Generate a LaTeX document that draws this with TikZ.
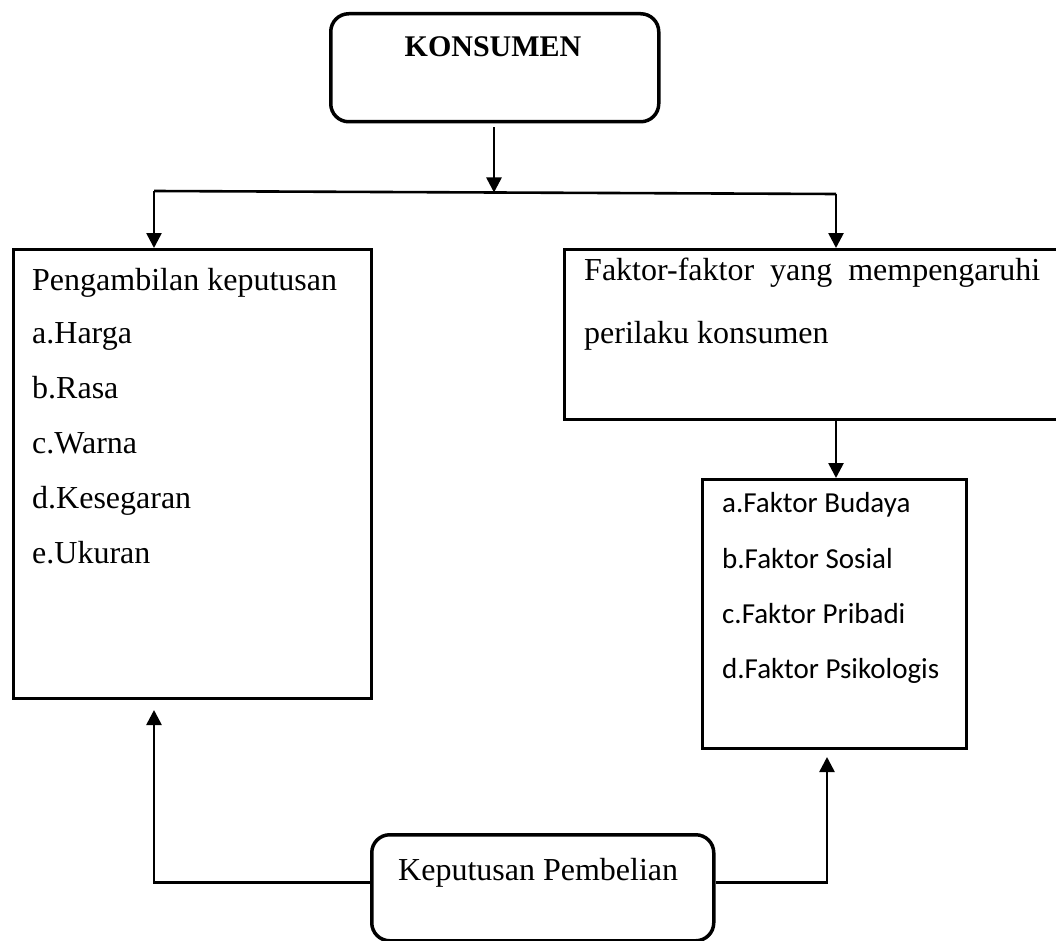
\documentclass[tikz,border=0pt]{standalone}
\usepackage{fontspec}
\setmainfont{Liberation Serif}
\newfontfamily\carlitofont{Carlito}
\usetikzlibrary{arrows.meta}
\begin{document}
\begin{tikzpicture}[x=1pt,y=-1pt,
  box/.style={draw, line width=2.6pt, inner sep=0pt, anchor=north west},
  rbox/.style={draw, line width=3.5pt, rounded corners=18pt, inner sep=0pt, anchor=north west},
  txt/.style={inner sep=0pt, anchor=base west, font=\fontsize{32}{38}\selectfont},
  stxt/.style={inner sep=0pt, anchor=base west, font=\carlitofont\fontsize{29}{35}\selectfont},
  conn/.style={line width=2.6pt},
  arr/.style={conn, -{Triangle[width=15pt,length=15pt]}}]
\useasboundingbox (0,0) rectangle (1056,941);
\clip (0,0) rectangle (1056,941);
% boxes
\node[rbox, minimum width=328pt, minimum height=108pt] (K) at (329,12) {};
\node[inner sep=0pt, anchor=base, font=\bfseries\fontsize{30}{36}\selectfont] (kt) at (493,57) {KONSUMEN};
\node[box, minimum width=358pt, minimum height=449pt] (L) at (12,248) {};
\node[box, minimum width=497pt, minimum height=170pt] (R) at (563,248) {};
\node[box, minimum width=264pt, minimum height=269pt] (S) at (701,478) {};
\node[rbox, minimum width=342pt, minimum height=106pt] (B) at (370,833) {};
% texts left
\node[txt] (l0) at (32,290) {Pengambilan keputusan};
\node[txt] (l1) at (32,343) {a.Harga};
\node[txt] (l2) at (32,398) {b.Rasa};
\node[txt] (l3) at (32,453) {c.Warna};
\node[txt] (l4) at (32,508) {d.Kesegaran};
\node[txt] (l5) at (32,563) {e.Ukuran};
% texts right
\node[txt] (r0) at (584,280) {\makebox[456pt][s]{Faktor-faktor yang mempengaruhi}};
\node[txt] (r1) at (584,343) {perilaku konsumen};
% texts small
\node[stxt] (s1) at (722,512) {a.Faktor Budaya};
\node[stxt] (s2) at (722,568) {b.Faktor Sosial};
\node[stxt] (s3) at (722,623) {c.Faktor Pribadi};
\node[stxt] (s4) at (722,678) {d.Faktor Psikologis};
% bottom text
\node[txt] (bt) at (398,880) {Keputusan Pembelian};
% connectors
\coordinate (hl) at (154,191);
\coordinate (hr) at (836,194);
\coordinate (hm) at (494,192.5);
\coordinate (lt) at (154,710);
\coordinate (rt) at (827,757);
\draw[conn] (hl) -- (hr);
\draw[arr] ([yshift=-4pt]K.south -| hm) -- (hm);
\draw[arr] (hl) -- (hl |- L.north);
\draw[arr] (hr) -- (hr |- R.north);
\draw[arr] (hr |- R.south) -- (hr |- S.north);
\draw[arr] ([yshift=5pt]B.west) -| (lt);
\draw[arr] ([yshift=5pt]B.east) -| (rt);
\end{tikzpicture}
\end{document}
